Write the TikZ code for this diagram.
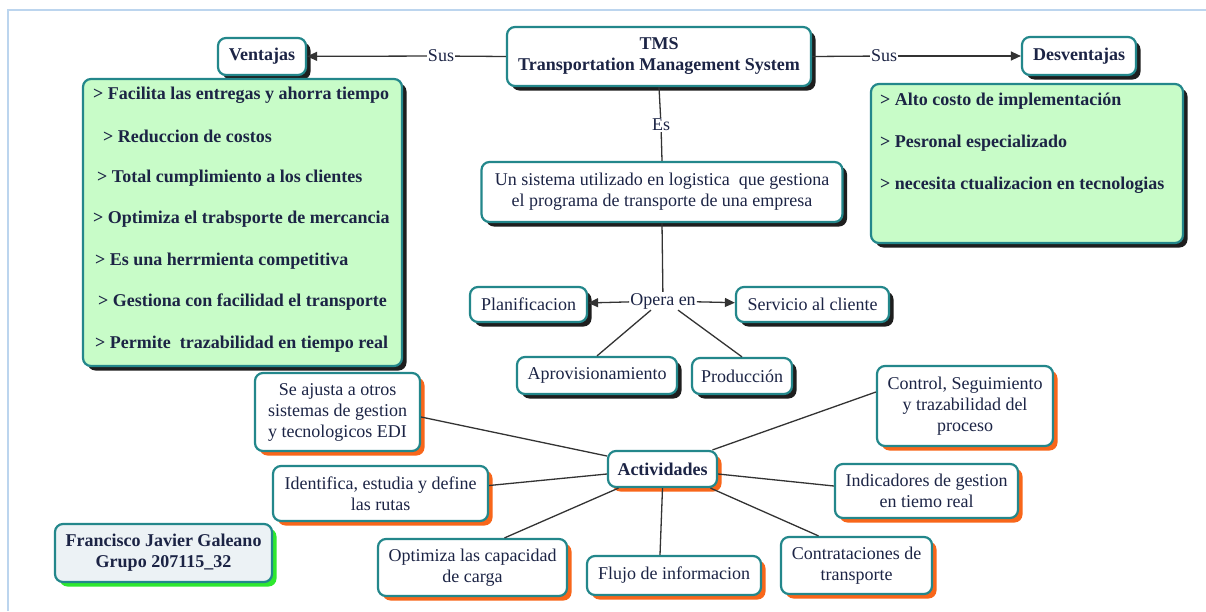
\documentclass[tikz,border=0pt]{standalone}
\usepackage{fontspec}
\setmainfont{Liberation Serif}
\usetikzlibrary{arrows.meta,shadows}

\definecolor{frameblue}{HTML}{BCD5EE}
\definecolor{boxedge}{HTML}{23878B}
\definecolor{ink}{HTML}{1C2445}
\definecolor{shadowgray}{HTML}{1E1E1E}
\definecolor{shadoworange}{HTML}{F8661A}
\definecolor{shadowgreen}{HTML}{2EE82E}
\definecolor{listgreen}{HTML}{C8FCC8}
\definecolor{namefill}{HTML}{ECF2F5}
\definecolor{linegray}{HTML}{333333}

\tikzset{
  box/.style={draw=boxedge, line width=2.2pt, rounded corners=8pt, fill=white,
    text=ink, font=\fontsize{18}{21}\selectfont, align=center, inner sep=2pt},
  darkshadow/.style={general shadow={fill=shadowgray, shadow xshift=4.5pt, shadow yshift=-4.5pt}},
  orangeshadow/.style={general shadow={fill=shadoworange, shadow xshift=4.5pt, shadow yshift=-4.5pt}},
  greenshadow/.style={general shadow={fill=shadowgreen, shadow xshift=4.5pt, shadow yshift=-4.5pt}},
  boldbox/.style={box, font=\fontsize{18}{21}\selectfont\bfseries},
  listbox/.style={box, fill=listgreen, darkshadow},
  item/.style={text=ink, font=\fontsize{18}{21}\selectfont\bfseries, anchor=west, inner sep=0pt},
  label/.style={text=ink, font=\fontsize{18}{21}\selectfont, inner sep=1pt},
  conn/.style={draw=linegray, line width=1.3pt},
  arr/.style={conn, -{Triangle[length=10pt,width=9pt]}},
  sz/.style n args={2}{minimum width=#1pt, minimum height=#2pt},
}

\begin{document}
\begin{tikzpicture}[x=1pt,y=-1pt]
\useasboundingbox (0,0) rectangle (1206,611);
\fill[white] (0,0) rectangle (1206,611);

% page frame
\draw[frameblue, line width=2pt] (8,611) -- (8,10) -- (1206,10);

% top level
\node[boldbox, darkshadow, sz={304}{59}] (tms) at (659,56.5) {TMS\\Transportation Management System};
\node[boldbox, darkshadow, sz={88}{37}] (vent) at (262,56.5) {Ventajas};
\node[boldbox, darkshadow, sz={114}{38}] (desv) at (1079,56) {Desventajas};

\node[label] (sus1) at (441,56) {Sus};
\node[label] (sus2) at (884,56) {Sus};
\draw[conn] (tms.west) -- (sus1);
\draw[arr] (sus1) -- (vent);
\draw[conn] (tms.east) -- (sus2);
\draw[arr] (sus2) -- (desv);

% advantages list
\node[listbox, sz={319}{287}] (vbox) at (242.5,222.5) {};
\node[item] (v1) at (93,95) {> Facilita las entregas y ahorra tiempo};
\node[item] (v2) at (103,136) {> Reduccion de costos};
\node[item] (v3) at (97,178) {> Total cumplimiento a los clientes};
\node[item] (v4) at (93,219) {> Optimiza el trabsporte de mercancia};
\node[item] (v5) at (95,261) {> Es una herrmienta competitiva};
\node[item] (v6) at (98,302) {> Gestiona con facilidad el transporte};
\node[item] (v7) at (95,344) {> Permite\ \ trazabilidad en tiempo real};

% disadvantages list
\node[listbox, sz={312}{159}] (dbox) at (1027,163.5) {};
\node[item] (d1) at (880,101) {> Alto costo de implementación};
\node[item] (d2) at (880,143) {> Pesronal especializado};
\node[item] (d3) at (880,185) {> necesita ctualizacion en tecnologias};

% definition
\node[label] (es) at (661,125) {Es};
\node[box, darkshadow, sz={361}{60}] (desc) at (662,192)
  {Un sistema utilizado en logistica\ \ que gestiona\\el programa de transporte de una empresa};
\draw[conn] (tms.south) -- (es);
\draw[conn] (es) -- (desc.north);

% operating areas
\node[label] (opera) at (663,301) {Opera en};
\node[box, darkshadow, sz={117}{35}] (plan) at (528.5,304.5) {Planificacion};
\node[box, darkshadow, sz={153}{35}] (serv) at (812.5,304.5) {Servicio al cliente};
\node[box, darkshadow, sz={160}{37}] (aprov) at (597,375.5) {Aprovisionamiento};
\node[box, darkshadow, sz={100}{36}] (prod) at (742,376) {Producción};
\draw[conn] (desc.south) -- (opera);
\draw[arr] (opera) -- (plan);
\draw[arr] (opera) -- (serv);
\draw[conn] ([xshift=-12pt]opera.south) -- (aprov.north);
\draw[conn] ([xshift=15pt]opera.south) -- (prod.north);

% activities
\node[boldbox, orangeshadow, sz={109}{36}] (act) at (662.5,469) {Actividades};
\node[box, orangeshadow, sz={165}{78}] (seaj) at (337.5,412) {Se ajusta a otros\\sistemas de gestion\\y tecnologicos EDI};
\node[box, orangeshadow, sz={215}{55}] (iden) at (380.5,493.5) {Identifica, estudia y define\\las rutas};
\node[box, orangeshadow, sz={189}{57}] (optc) at (472.5,567.5) {Optimiza las capacidad\\de carga};
\node[box, orangeshadow, sz={174}{39}] (flujo) at (674,575.5) {Flujo de informacion};
\node[box, orangeshadow, sz={151}{57}] (contr) at (856.5,565.5) {Contrataciones de\\transporte};
\node[box, orangeshadow, sz={183}{54}] (indic) at (926.5,491) {Indicadores de gestion\\en tiemo real};
\node[box, orangeshadow, sz={176}{80}] (ctrl) at (965,406) {Control, Seguimiento\\y trazabilidad del\\proceso};

% connectors from the activities hub (yshift is in page units: positive moves up)
\draw[conn] ([yshift=-5pt]seaj.east) -- ([yshift=13pt]act.west);
\draw[conn] ([yshift=8pt]iden.east) -- ([yshift=-5pt]act.west);
\draw[conn] ([xshift=32pt]optc.north) -- ([xshift=-44pt]act.south);
\draw[conn] (act.south) -- ([xshift=-14pt]flujo.north);
\draw[conn] ([xshift=48pt]act.south) -- ([xshift=-38pt]contr.north);
\draw[conn] ([yshift=-5pt]act.east) -- ([yshift=5pt]indic.west);
\draw[conn] ([xshift=50pt]act.north) -- ([yshift=14pt]ctrl.west);

% author
\node[boldbox, fill=namefill, greenshadow, sz={217}{58}] (author) at (163.5,553)
  {Francisco Javier Galeano\\Grupo 207115\_32};
\end{tikzpicture}
\end{document}
